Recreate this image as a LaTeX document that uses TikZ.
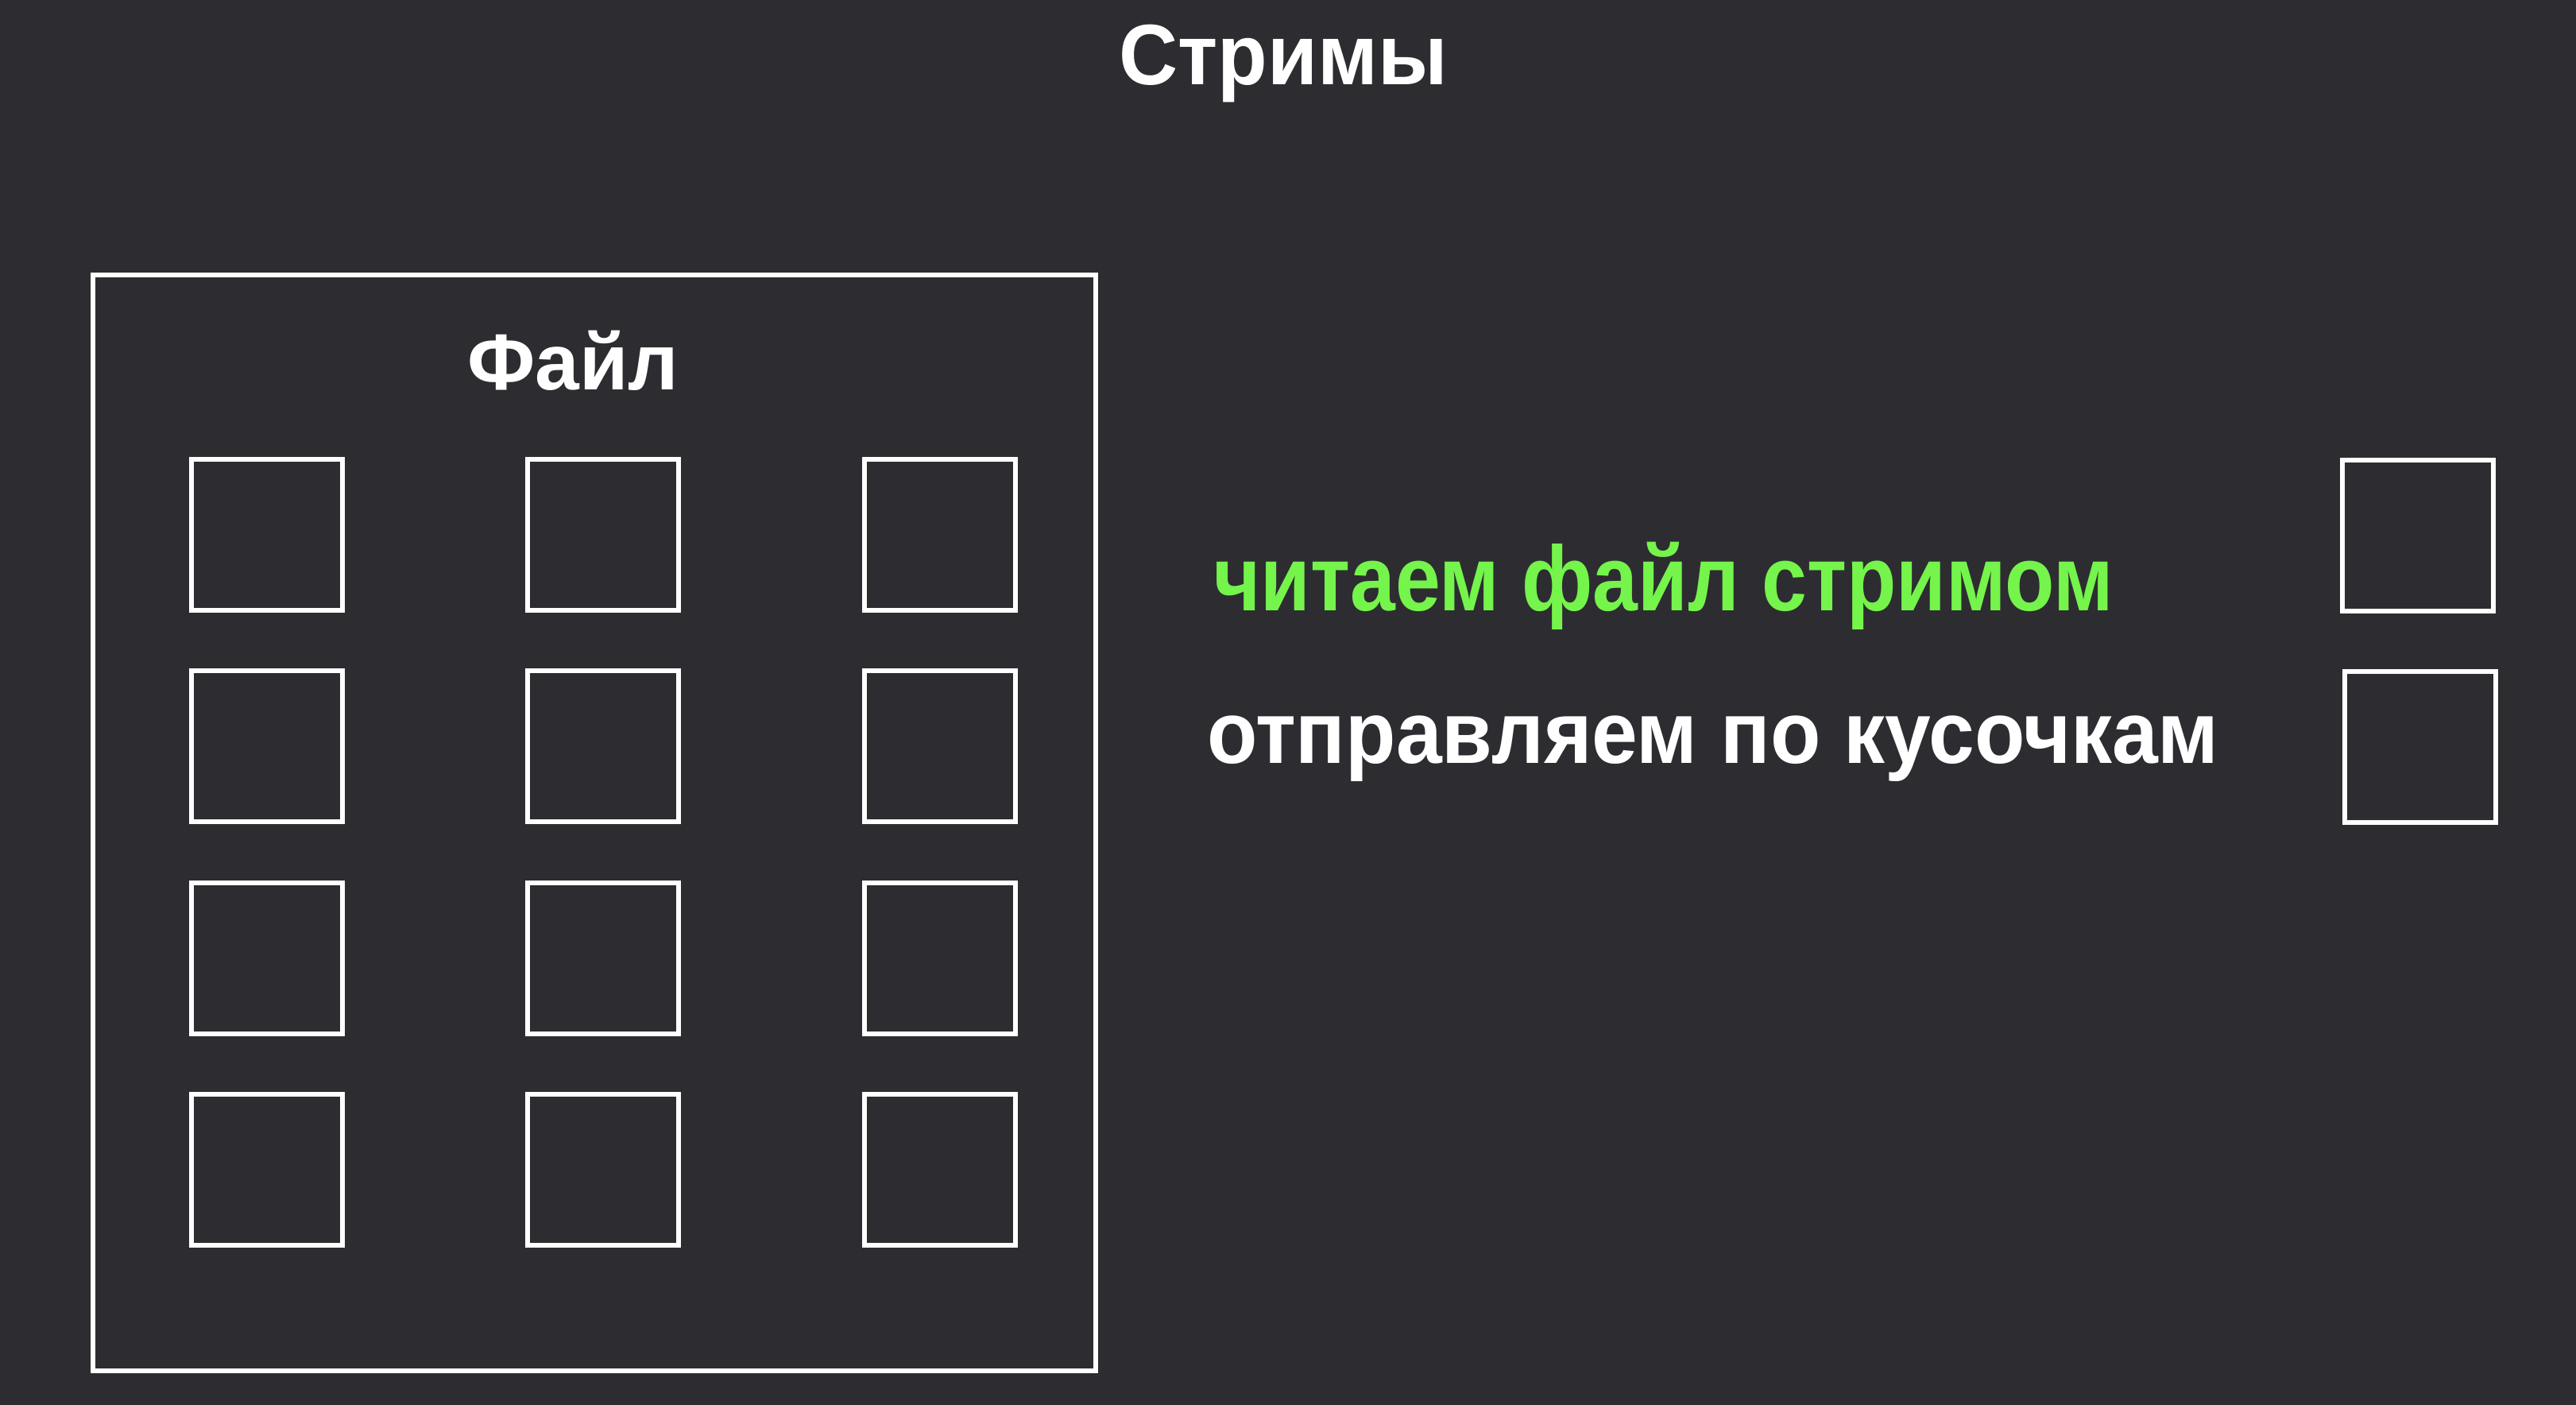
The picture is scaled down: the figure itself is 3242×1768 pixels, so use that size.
\documentclass[tikz,border=0pt]{standalone}
\usepackage{fontspec}
\usepackage{graphicx}
\setmainfont{Liberation Sans}
\definecolor{bg}{HTML}{2D2D31}
\definecolor{grn}{HTML}{75F44B}
\begin{document}
\begin{tikzpicture}[x=1pt,y=-1pt,
  cell/.style={draw=white,line width=5.5pt,minimum width=190pt,minimum height=190pt,inner sep=0pt},
  frame/.style={draw=white,line width=5.5pt},
  lbl/.style={inner sep=0pt,text=white,font=\bfseries}]
\fill[bg] (0,0) rectangle (3242,1768);
\useasboundingbox (0,0) rectangle (3242,1768);
\node[lbl,anchor=base,font=\bfseries\fontsize{108}{120}\selectfont] (title) at (1615,107) {\scalebox{0.95}[1]{Стримы}};
\draw[frame] (117,346) rectangle (1379,1725);
\node[lbl,anchor=base,font=\bfseries\fontsize{100}{120}\selectfont] (file) at (721,490) {Файл};
\foreach \r/\yy in {1/673,2/939,3/1206,4/1472}{
  \foreach \c/\xx in {1/336,2/759,3/1183}{
    \node[cell] (b\r\c) at (\xx,\yy) {};
  }
}
\node[lbl,anchor=base west,text=grn,font=\bfseries\fontsize{116}{130}\selectfont] (read) at (1527,768) {\scalebox{0.88}[1]{читаем файл стримом}};
\node[lbl,anchor=base west,font=\bfseries\fontsize{111}{130}\selectfont] (send) at (1519,960) {\scalebox{0.935}[1]{отправляем по кусочкам}};
\node[cell] (r1) at (3043,674) {};
\node[cell] (r2) at (3046,940) {};
\end{tikzpicture}
\end{document}
